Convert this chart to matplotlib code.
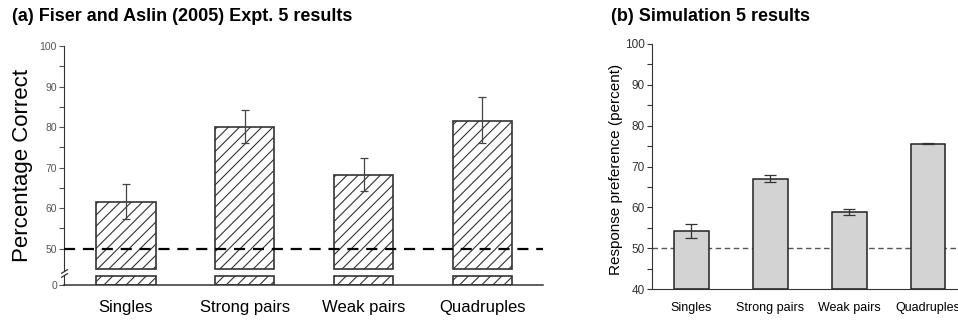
import numpy as np
import matplotlib
matplotlib.use("Agg")
import matplotlib.pyplot as plt

plt.rcParams['font.family'] = ['Liberation Sans', 'DejaVu Sans']
plt.rcParams['hatch.linewidth'] = 0.8
plt.rcParams['hatch.color'] = '#333333'

# data
categories = ['Singles', 'Strong pairs', 'Weak pairs', 'Quadruples']
expt_mean = [61.5, 80.1, 68.3, 81.6]
expt_err_hi = [65.9, 84.2, 72.3, 87.3]
expt_err_lo = [57.3, 76.1, 64.3, 76.0]
sim_mean = [54.2, 67.0, 58.9, 75.6]
sim_err_hi = [56.0, 67.8, 59.6, 75.8]
sim_err_lo = [52.4, 66.3, 58.2, 75.4]

W, H = 958, 321
fig = plt.figure(figsize=(W / 100, H / 100), dpi=100)

def box(l, b, r, t):
    # pixel box -> figure fraction (top-left origin pixels)
    return [l / W, (H - b) / H, (r - l) / W, (b - t) / H]

x = np.arange(len(categories))

# ---- panel (a): broken axis ----
ax_top = fig.add_axes(box(64, 270.6, 543, 46))
ax_bot = fig.add_axes(box(64, 285, 543, 275), sharex=ax_top)

ax_top.bar(x, np.array(expt_mean) - 45, bottom=45, width=0.5, color='white',
           edgecolor='#333333', linewidth=1.2, hatch='///', zorder=2)
yerr = [np.array(expt_mean) - np.array(expt_err_lo),
        np.array(expt_err_hi) - np.array(expt_mean)]
ax_top.errorbar(x, expt_mean, yerr=yerr, fmt='none', ecolor='#444444',
                elinewidth=0.9, capsize=3, capthick=0.9, zorder=3)
ax_top.axhline(50, color='black', linestyle=(0, (5, 3.5)), linewidth=1.6, zorder=4)
ax_top.set_ylim(44.6, 100)
ax_top.set_xlim(-0.52, 3.51)
ax_top.set_yticks([50, 60, 70, 80, 90, 100])
ax_top.set_yticks([55, 65, 75, 85, 95], minor=True)
ax_top.tick_params(axis='y', which='both', length=3.5, width=0.8, colors='#555555',
                   labelsize=7.5, pad=1.5)
ax_top.tick_params(axis='x', bottom=False, labelbottom=False)
for s in ['top', 'right', 'bottom']:
    ax_top.spines[s].set_visible(False)
ax_top.spines['left'].set_color('#333333')
ax_top.set_ylabel('Percentage Correct', fontsize=16)
ax_top.yaxis.set_label_coords(-0.065, 0.47)

ax_bot.bar(x, [2.0] * len(x), width=0.5, color='white', edgecolor='#333333',
           linewidth=1.2, hatch='///', zorder=2)
ax_bot.set_ylim(0, 2.2)
ax_bot.set_yticks([0])
ax_bot.tick_params(axis='y', length=3.5, width=0.8, colors='#555555', labelsize=7.5, pad=1.5)
ax_bot.set_xticks(x)
ax_bot.set_xticklabels(categories, fontsize=12)
ax_bot.tick_params(axis='x', length=0, pad=11)
for s in ['top', 'right']:
    ax_bot.spines[s].set_visible(False)
ax_bot.spines['left'].set_color('#333333')
ax_bot.spines['bottom'].set_color('#333333')
ax_bot.spines['bottom'].set_linewidth(1.1)

kw = dict(marker=[(-1, -0.6), (1, 0.6)], markersize=5, linestyle='none',
          color='#333333', mec='#333333', mew=0.9, clip_on=False)
ax_top.plot([0], [0], transform=ax_top.transAxes, **kw)
ax_bot.plot([0], [1], transform=ax_bot.transAxes, **kw)

# ---- panel (b) ----
ax_b = fig.add_axes(box(652, 289, 967.5, 44))
ax_b.bar(x, np.array(sim_mean) - 40, bottom=40, width=0.44, color='#d3d3d3',
         edgecolor='#222222', linewidth=1.1, zorder=2)
yerr_b = [np.array(sim_mean) - np.array(sim_err_lo),
          np.array(sim_err_hi) - np.array(sim_mean)]
ax_b.errorbar(x, sim_mean, yerr=yerr_b, fmt='none', ecolor='#333333',
              elinewidth=0.9, capsize=4, capthick=0.9, zorder=3)
ax_b.axhline(50, color='#555555', linestyle=(0, (4, 2.5)), linewidth=1.0, zorder=1)
ax_b.set_ylim(40, 100)
ax_b.set_xlim(-0.5, 3.5)
ax_b.set_yticks([40, 50, 60, 70, 80, 90, 100])
ax_b.set_yticks([45, 55, 65, 75, 85, 95], minor=True)
ax_b.tick_params(axis='y', which='both', length=3.5, width=0.8, colors='#333333',
                 labelsize=8.5, pad=1.5)
ax_b.set_xticks(x)
ax_b.set_xticklabels(categories, fontsize=9)
ax_b.tick_params(axis='x', length=0, pad=9)
for s in ['top', 'right']:
    ax_b.spines[s].set_visible(False)
ax_b.spines['left'].set_color('#333333')
ax_b.spines['bottom'].set_color('#333333')
ax_b.set_ylabel('Response preference (percent)', fontsize=11)
ax_b.yaxis.set_label_coords(-0.092, 0.49)

fig.text(12 / W, (H - 21) / H, '(a) Fiser and Aslin (2005) Expt. 5 results',
         fontsize=13, fontweight='bold', va='baseline', ha='left')
fig.text(611 / W, (H - 21) / H, '(b) Simulation 5 results',
         fontsize=13, fontweight='bold', va='baseline', ha='left')

fig.savefig('out.png', dpi=100)
